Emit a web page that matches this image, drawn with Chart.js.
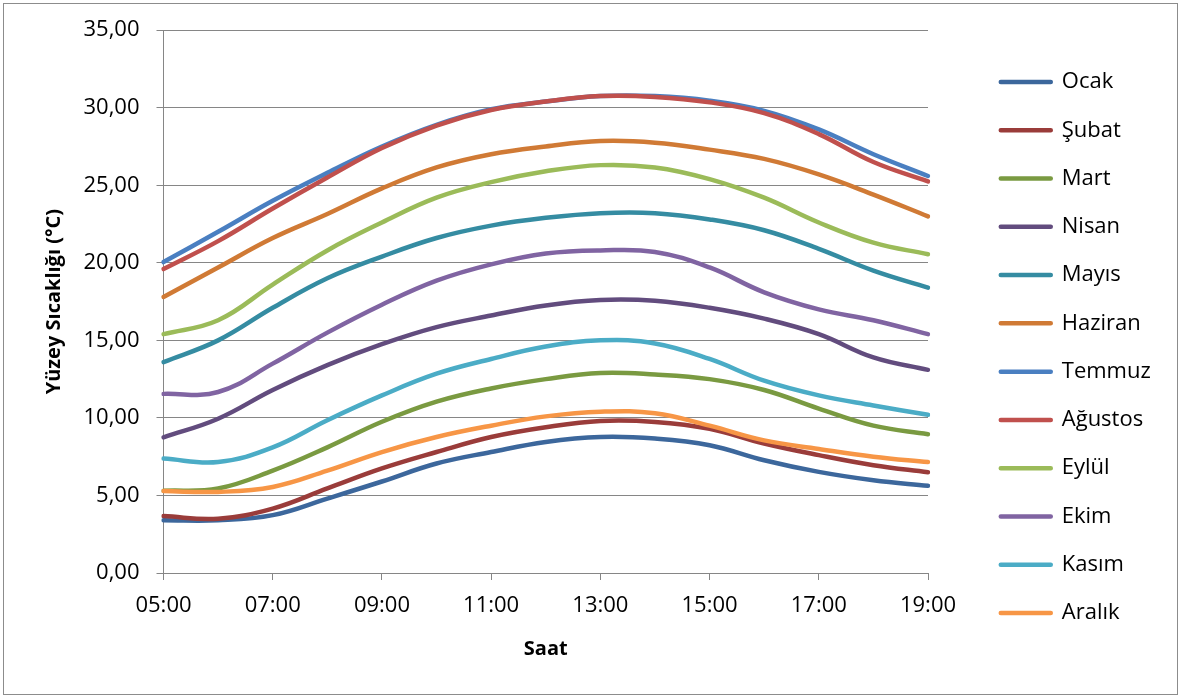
<!DOCTYPE html>
<html><head><meta charset="utf-8">
<script src="https://cdn.jsdelivr.net/npm/chart.js@4.4.0/dist/chart.umd.min.js"></script>
<style>
html,body{margin:0;padding:0;background:#fff;}
#wrap{position:relative;width:1185px;height:697px;}
#frame{position:absolute;left:3px;top:3px;width:1175px;height:692px;border:1.5px solid #8c8c8c;box-sizing:border-box;pointer-events:none;}
canvas{position:absolute;left:0;top:0;}
</style></head><body>
<div id="wrap"><canvas id="c" width="1185" height="697"></canvas><div id="frame"></div></div>
<script>
const hours = ['05:00','06:00','07:00','08:00','09:00','10:00','11:00','12:00','13:00','14:00','15:00','16:00','17:00','18:00','19:00'];
const months = ['Ocak','Şubat','Mart','Nisan','Mayıs','Haziran','Temmuz','Ağustos','Eylül','Ekim','Kasım','Aralık'];
const colors = ['#3C679C','#9A3C3A','#7A9A41','#624C7E','#358CA2','#D07A35','#4A7FC1','#C0504D','#9BBB59','#8064A2','#4BACC6','#F79646'];
const ocak    = [3.40, 3.40, 3.73, 4.80, 5.90, 7.06, 7.80, 8.45, 8.77, 8.67, 8.24, 7.27, 6.52, 5.98, 5.62];
const subat   = [3.67, 3.50, 4.15, 5.45, 6.74, 7.80, 8.77, 9.40, 9.80, 9.74, 9.30, 8.35, 7.60, 6.95, 6.50];
const mart    = [5.30, 5.45, 6.60, 8.10, 9.75, 11.05, 11.90, 12.50, 12.90, 12.80, 12.50, 11.80, 10.60, 9.50, 8.95];
const nisan   = [8.75, 9.95, 11.80, 13.40, 14.75, 15.85, 16.60, 17.25, 17.60, 17.55, 17.10, 16.40, 15.40, 13.90, 13.10];
const mayis   = [13.60, 15.00, 17.10, 19.00, 20.40, 21.60, 22.40, 22.90, 23.20, 23.20, 22.80, 22.10, 20.90, 19.50, 18.40];
const haziran = [17.80, 19.70, 21.60, 23.15, 24.80, 26.15, 27.00, 27.50, 27.85, 27.75, 27.30, 26.70, 25.70, 24.40, 23.00];
const temmuz  = [20.05, 22.00, 24.00, 25.80, 27.50, 28.90, 29.90, 30.40, 30.75, 30.75, 30.45, 29.80, 28.60, 27.00, 25.60];
const agustos = [19.60, 21.40, 23.50, 25.50, 27.40, 28.85, 29.85, 30.40, 30.75, 30.70, 30.35, 29.65, 28.30, 26.50, 25.25];
const eylul   = [15.40, 16.30, 18.60, 20.80, 22.60, 24.20, 25.20, 25.90, 26.30, 26.15, 25.40, 24.20, 22.60, 21.30, 20.55];
const ekim    = [11.55, 11.67, 13.50, 15.50, 17.30, 18.85, 19.90, 20.60, 20.80, 20.70, 19.70, 18.10, 17.00, 16.30, 15.40];
const kasim   = [7.38, 7.16, 8.10, 9.85, 11.45, 12.85, 13.80, 14.60, 15.00, 14.80, 13.80, 12.40, 11.45, 10.80, 10.20];
const aralik  = [5.28, 5.23, 5.55, 6.60, 7.80, 8.77, 9.50, 10.10, 10.40, 10.30, 9.50, 8.55, 8.00, 7.50, 7.15];
const series = [ocak, subat, mart, nisan, mayis, haziran, temmuz, agustos, eylul, ekim, kasim, aralik];
const yTicks = [0, 5, 10, 15, 20, 25, 30, 35];

Chart.defaults.font.family = "'Open Sans', sans-serif";
Chart.defaults.color = '#000';

const datasets = months.map((m, i) => ({
  label: m,
  data: series[i],
  borderColor: colors[i],
  backgroundColor: colors[i],
  borderWidth: 4.5,
  borderCapStyle: 'round',
  borderJoinStyle: 'round',
  pointRadius: 0,
  tension: 0.4,
  order: months.length - 1 - i
}));

const legendPlugin = {
  id: 'legendTweak',
  beforeInit(chart) {
    const orig = chart.legend.fit;
    chart.legend.fit = function() { orig.call(chart.legend); this.width = 200.5; };
  },
  afterLayout(chart) {
    chart.legend.top += 1.5;
    chart.legend.bottom += 1.5;
  }
};

new Chart(document.getElementById('c'), {
  type: 'line',
  data: { labels: hours, datasets },
  plugins: [legendPlugin],
  options: {
    responsive: false,
    animation: false,
    devicePixelRatio: 1,
    layout: { padding: { left: 38, top: 29, right: 10, bottom: 34 } },
    plugins: {
      legend: {
        position: 'right',
        reverse: true,
        labels: { font: { size: 22 }, boxWidth: 50, boxHeight: 0, padding: 26.27, color: '#000' }
      },
      tooltip: { enabled: false }
    },
    scales: {
      x: {
        offset: false,
        grid: { drawOnChartArea: false, tickLength: 7, color: (c) => (c.index % 2 === 0 ? '#868686' : 'rgba(0,0,0,0)') },
        border: { color: '#868686', width: 1 },
        ticks: { autoSkip: false, maxRotation: 0, padding: 13, font: { size: 22 },
          callback: function(v, i) { return i % 2 === 0 ? this.getLabelForValue(v) : ''; } },
        title: { display: true, text: 'Saat', font: { size: 20, weight: 'bold' }, padding: { top: 2, bottom: 2 } },
        afterFit(s) { s.height = 90; }
      },
      y: {
        min: 0, max: 35,
        afterBuildTicks(s) { s.ticks = yTicks.map(v => ({ value: v })); },
        grid: { color: '#868686', tickLength: 7 },
        border: { color: '#868686', width: 1 },
        ticks: { padding: 17, font: { size: 22 }, callback: (v) => v.toFixed(2).replace('.', ',') },
        title: { display: true, text: 'Yüzey Sıcaklığı (°C)', font: { size: 20, weight: 'bold' }, padding: { top: 4, bottom: 4 } },
        afterFit(s) { s.width = 125.5; }
      },
      y2: {
        position: 'right',
        display: true,
        grid: { display: false, drawTicks: false },
        border: { display: false },
        ticks: { display: false },
        afterFit(s) { s.width = 46.5; }
      }
    }
  }
});
</script>
</body></html>
